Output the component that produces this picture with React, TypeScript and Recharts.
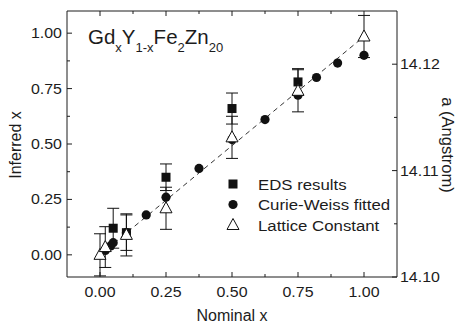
import React from 'react';
import { ComposedChart, Scatter, XAxis, YAxis, ErrorBar, Legend } from 'recharts';

// tick values
const nominalTicks = [0, 0.125, 0.25, 0.375, 0.5, 0.625, 0.75, 0.875, 1];
const nominalMajor = [0, 0.25, 0.5, 0.75, 1];
const inferredTicks = [0, 0.125, 0.25, 0.375, 0.5, 0.625, 0.75, 0.875, 1];
const latticeTicks = [14.1, 14.105, 14.11, 14.115, 14.12];
const latticeMajor = [14.1, 14.11, 14.12];

// EDS results (squares)
const edsX = [0.05, 0.1, 0.25, 0.5, 0.75];
const edsY = [0.12, 0.1, 0.35, 0.66, 0.78];
const edsErr = [0.09, 0.08, 0.06, 0.07, 0.06];

// Curie-Weiss fitted (circles)
const cwX = [0.02, 0.04, 0.05, 0.1, 0.175, 0.25, 0.375, 0.5, 0.625, 0.75, 0.82, 0.9, 1.0];
const cwY = [0.02, 0.04, 0.055, 0.1, 0.18, 0.26, 0.39, 0.52, 0.61, 0.72, 0.8, 0.865, 0.9];

// Lattice constant (open triangles)
const latX = [0.0, 0.02, 0.1, 0.25, 0.5, 0.75, 1.0];
const latY = [0.0, 0.035, 0.09, 0.21, 0.53, 0.74, 0.985];
const latErr = [0.095, 0.092, 0.095, 0.095, 0.095, 0.095, 0.095];

// dashed guide line
const guideX = [0, 1];
const guideY = [0, 0.985];

const seriesNames = ['EDS results', 'Curie-Weiss fitted', 'Lattice Constant'];

const edsData = edsX.map((x, i) => ({ x, y: edsY[i], err: edsErr[i] }));
const cwData = cwX.map((x, i) => ({ x, y: cwY[i] }));
const latData = latX.map((x, i) => ({ x, y: latY[i], err: latErr[i] }));
const guideData = guideX.map((x, i) => ({ x, y: guideY[i] }));

const FONT = '"Liberation Sans", Arial, Helvetica, sans-serif';
const INK = '#1c1c1c';
const M = 4; // tick margin used to find the axis line
const WIDE = 1.14;
const TICK_FS = 14;

const isMajor = (v: number, majors: number[]) => majors.some((m) => Math.abs(m - v) < 1e-6);

const BottomTick = (p: any) => {
  const axisY = p.y - M;
  const major = isMajor(p.payload.value, nominalMajor);
  return (
    <g>
      <line x1={p.x} x2={p.x} y1={axisY} y2={axisY - (major ? 5 : 3)} stroke={INK} />
      {major && (
        <text transform={`translate(${p.x},${axisY + 19.5}) scale(${WIDE},1)`} textAnchor="middle"
          fontFamily={FONT} fontSize={TICK_FS} fill={INK}>
          {p.payload.value.toFixed(2)}
        </text>
      )}
    </g>
  );
};

const TopTick = (p: any) => {
  const axisY = p.y + M;
  const major = isMajor(p.payload.value, nominalMajor);
  return <line x1={p.x} x2={p.x} y1={axisY} y2={axisY + (major ? 5 : 3)} stroke={INK} />;
};

const LeftTick = (p: any) => {
  const axisX = p.x + M;
  const major = isMajor(p.payload.value, nominalMajor);
  return (
    <g>
      <line x1={axisX} x2={axisX + (major ? 5 : 3)} y1={p.y} y2={p.y} stroke={INK} />
      {major && (
        <text transform={`translate(${axisX - 5},${p.y + 5}) scale(${WIDE},1)`} textAnchor="end"
          fontFamily={FONT} fontSize={TICK_FS} fill={INK}>
          {p.payload.value.toFixed(2)}
        </text>
      )}
    </g>
  );
};

const RightTick = (p: any) => {
  const axisX = p.x - M;
  const major = isMajor(p.payload.value, latticeMajor);
  return (
    <g>
      <line x1={axisX} x2={axisX - (major ? 5 : 3)} y1={p.y} y2={p.y} stroke={INK} />
      {major && (
        <text transform={`translate(${axisX + 3},${p.y + 5}) scale(${WIDE},1)`} textAnchor="start"
          fontFamily={FONT} fontSize={TICK_FS} fill={INK}>
          {p.payload.value.toFixed(2)}
        </text>
      )}
    </g>
  );
};

const Square = (p: any) => <rect x={p.cx - 4.5} y={p.cy - 4.5} width={9} height={9} fill="#111" />;
const Dot = (p: any) => <circle cx={p.cx} cy={p.cy} r={4.6} fill="#111" />;
const Triangle = (p: any) => (
  <polygon
    points={`${p.cx},${p.cy - 6.5} ${p.cx - 6},${p.cy + 4.5} ${p.cx + 6},${p.cy + 4.5}`}
    fill="#fff" stroke="#111" strokeWidth={1}
  />
);
const NoMark = () => <g />;

const LegendBox = () => {
  const rows = [
    (cx: number, cy: number) => <rect x={cx - 4.5} y={cy - 4.5} width={9} height={9} fill="#111" />,
    (cx: number, cy: number) => <circle cx={cx} cy={cy} r={4.6} fill="#111" />,
    (cx: number, cy: number) => (
      <polygon points={`${cx},${cy - 6.5} ${cx - 6},${cy + 4.5} ${cx + 6},${cy + 4.5}`}
        fill="#fff" stroke="#111" />
    ),
  ];
  return (
    <svg width={220} height={70} style={{ display: 'block' }}>
      {seriesNames.map((name, i) => {
        const cy = 12 + i * 20.5;
        return (
          <g key={name}>
            {rows[i](13, cy)}
            <text transform={`translate(38,${cy + 5.5}) scale(1.12,1)`} fontFamily={FONT}
              fontSize={15} fill={INK}>
              {name}
            </text>
          </g>
        );
      })}
    </svg>
  );
};

export default function App() {
  return (
    <div style={{ position: 'absolute', left: 0, top: 0, width: 456, height: 324, background: '#fff' }}>
      <ComposedChart width={456} height={324} margin={{ top: 1, right: 0, bottom: 0, left: 0 }}>
        <XAxis xAxisId="bottom" dataKey="x" type="number" domain={[-0.125, 1.125]} ticks={nominalTicks}
          interval={0} allowDataOverflow height={47} tickSize={0} tickMargin={M} tickLine={false}
          axisLine={{ stroke: INK }} tick={(p: any) => <BottomTick {...p} />}
          label={(p: any) => (
            <text x={p.viewBox.x + p.viewBox.width / 2} y={p.viewBox.y + 44} textAnchor="middle"
              fontFamily={FONT} fontSize={16} fill={INK}>
              Nominal x
            </text>
          )} />
        <XAxis xAxisId="top" orientation="top" dataKey="x" type="number" domain={[-0.125, 1.125]}
          ticks={nominalTicks} interval={0} allowDataOverflow height={10} tickSize={0} tickMargin={M}
          tickLine={false} axisLine={{ stroke: INK }} tick={(p: any) => <TopTick {...p} />} />
        <YAxis yAxisId="left" dataKey="y" type="number" domain={[-0.1, 1.1]} ticks={inferredTicks}
          interval={0} allowDataOverflow width={67} tickSize={0} tickMargin={M} tickLine={false}
          axisLine={{ stroke: INK }} tick={(p: any) => <LeftTick {...p} />}
          label={(p: any) => (
            <text transform={`translate(21,${p.viewBox.y + p.viewBox.height / 2 + 1}) rotate(-90)`}
              textAnchor="middle" fontFamily={FONT} fontSize={16} fill={INK}>
              Inferred x
            </text>
          )} />
        <YAxis yAxisId="right" orientation="right" type="number" domain={[14.1, 14.125]}
          ticks={latticeTicks} interval={0} allowDataOverflow width={59} tickSize={0} tickMargin={M}
          tickLine={false} axisLine={{ stroke: INK }} tick={(p: any) => <RightTick {...p} />}
          label={(p: any) => (
            <text transform={`translate(442,${p.viewBox.y + p.viewBox.height / 2 + 1}) rotate(90)`}
              textAnchor="middle" fontFamily={FONT} fontSize={16.5} fill={INK}>
              a (Angstrom)
            </text>
          )} />
        <Legend layout="horizontal" verticalAlign="middle" align="center"
          wrapperStyle={{ left: 220, top: 172, width: 220 }} content={() => <LegendBox />} />
        <Scatter name="guide" data={guideData} xAxisId="bottom" yAxisId="left" shape={NoMark}
          line={{ stroke: '#333', strokeWidth: 1, strokeDasharray: '5 4' }} lineType="joint"
          legendType="none" isAnimationActive={false} />
        <Scatter name={seriesNames[1]} data={cwData} xAxisId="bottom" yAxisId="left" shape={Dot}
          isAnimationActive={false} />
        <Scatter name={seriesNames[0]} data={edsData} xAxisId="bottom" yAxisId="left" shape={Square}
          isAnimationActive={false}>
          <ErrorBar dataKey="err" direction="y" width={6} stroke="#111" strokeWidth={1} />
        </Scatter>
        <Scatter name={seriesNames[2]} data={latData} xAxisId="bottom" yAxisId="left" shape={Triangle}
          isAnimationActive={false}>
          <ErrorBar dataKey="err" direction="y" width={6} stroke="#111" strokeWidth={1} />
        </Scatter>
      </ComposedChart>
      <div style={{ position: 'absolute', left: 88, top: 26.6, fontFamily: FONT, fontSize: 20.5,
        lineHeight: 1, color: INK, whiteSpace: 'nowrap' }}>
        Gd<span style={{ fontSize: 13, position: 'relative', top: 8 }}>x</span>
        Y<span style={{ fontSize: 13, position: 'relative', top: 8 }}>1-x</span>
        Fe<span style={{ fontSize: 13, position: 'relative', top: 8 }}>2</span>
        Zn<span style={{ fontSize: 13, position: 'relative', top: 8 }}>20</span>
      </div>
    </div>
  );
}
